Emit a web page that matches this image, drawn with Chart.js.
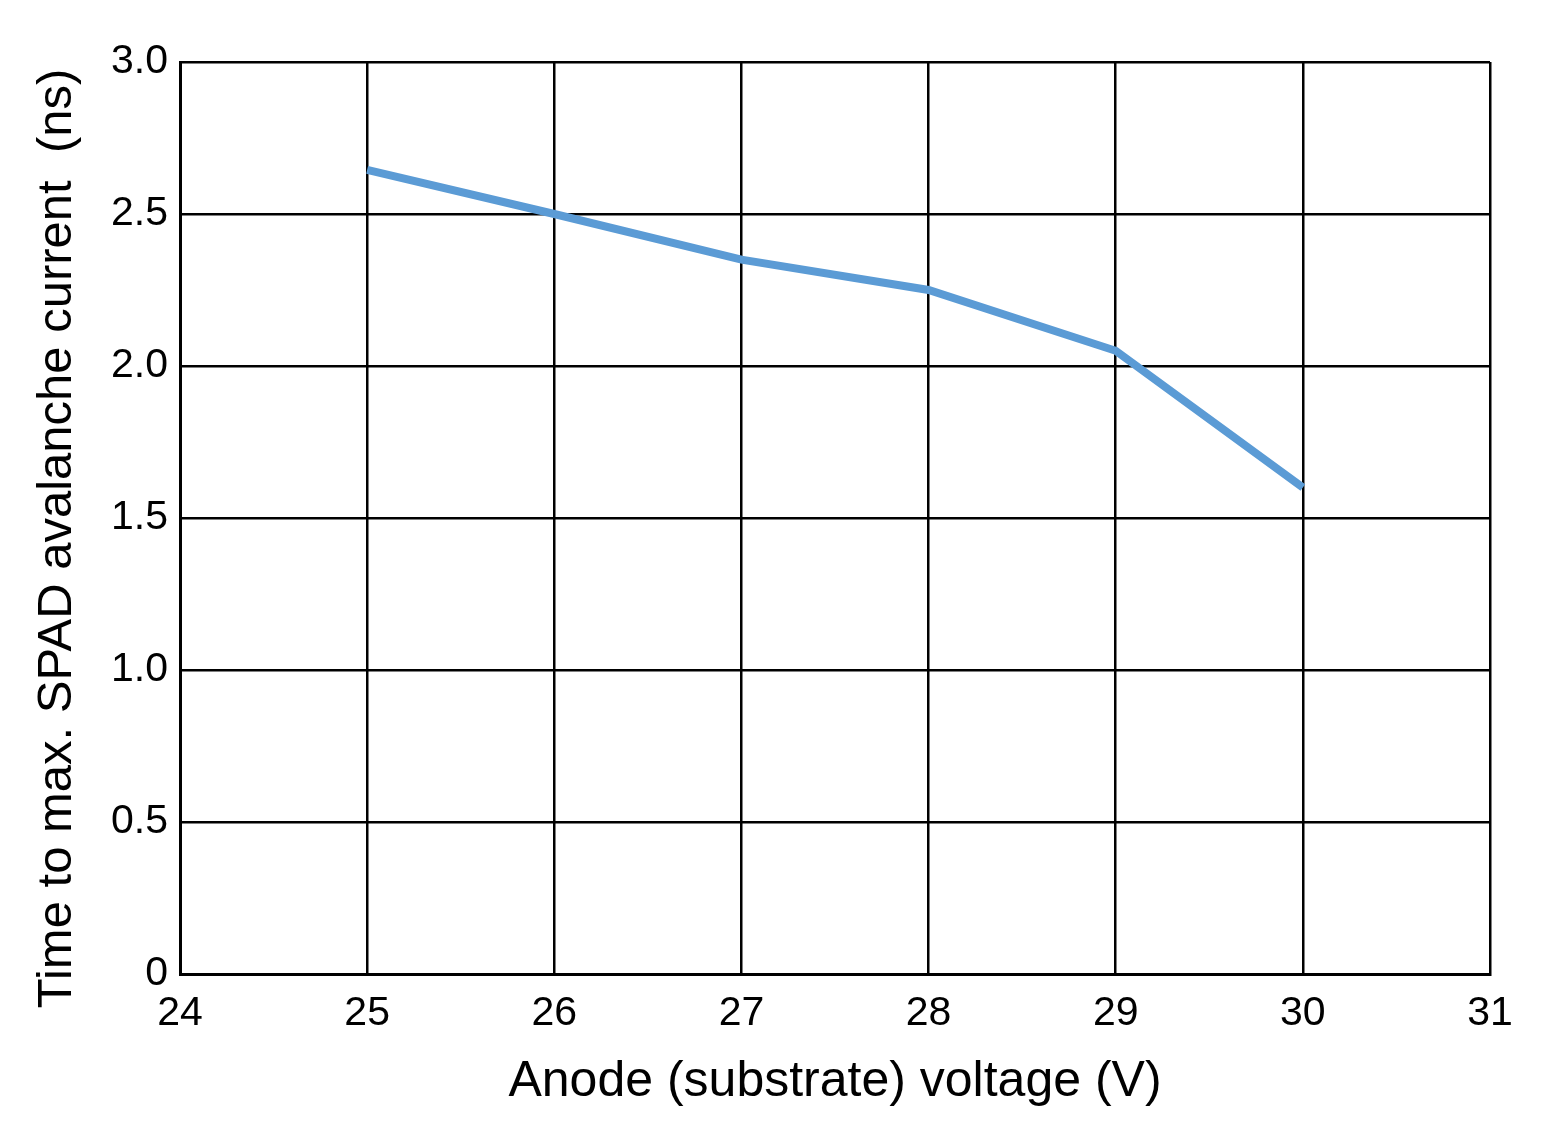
<!DOCTYPE html>
<html>
<head>
<meta charset="utf-8">
<script src="https://cdn.jsdelivr.net/npm/chart.js@4/dist/chart.umd.min.js"></script>
<style>
html,body{margin:0;padding:0;background:#fff}
#wrap{width:1544px;height:1135px}
</style>
</head>
<body>
<div id="wrap"><canvas id="c"></canvas></div>
<script>
const voltage=[25,26,27,28,29,30];
const riseTime=[2.645,2.5,2.35,2.25,2.05,1.6];
const yTickLabels=['0','0.5','1.0','1.5','2.0','2.5','3.0'];
const xTickLabels=['24','25','26','27','28','29','30','31'];

const FONT="'Liberation Sans',Arial,sans-serif";

new Chart(document.getElementById('c'),{
  type:'line',
  data:{datasets:[{
    data:voltage.map((v,i)=>({x:v,y:riseTime[i]})),
    borderColor:'#5b9bd5',borderWidth:8,pointRadius:0,fill:false,tension:0
  }]},
  options:{
    responsive:true,maintainAspectRatio:false,animation:false,
    layout:{padding:{top:62,right:54,left:0,bottom:0}},
    plugins:{legend:{display:false},tooltip:{enabled:false}},
    scales:{
      x:{type:'linear',min:24,max:31,
        ticks:{stepSize:1,callback:(v,i)=>xTickLabels[i],color:'#000',font:{family:FONT,size:41},padding:15,maxRotation:0},
        grid:{color:'#000',lineWidth:2.5,drawTicks:false},
        border:{color:'#000',width:3},
        title:{display:true,text:'Anode (substrate) voltage (V)',color:'#000',font:{family:FONT,size:50},padding:{top:0,bottom:23}},
        afterFit:s=>{s.height=161}
      },
      y:{min:0,max:3,
        ticks:{stepSize:0.5,callback:(v,i)=>yTickLabels[i],color:'#000',font:{family:FONT,size:41},padding:12},
        grid:{color:'#000',lineWidth:2.5,drawTicks:false},
        border:{color:'#000',width:3},
        // trailing spaces nudge the centred title down a little, like the original
        title:{display:true,text:'Time to max. SPAD avalanche current  (ns)   ',color:'#000',font:{family:FONT,size:49},padding:{top:28}},
        afterFit:s=>{s.width=180}
      }
    }
  }
});
</script>
</body>
</html>
